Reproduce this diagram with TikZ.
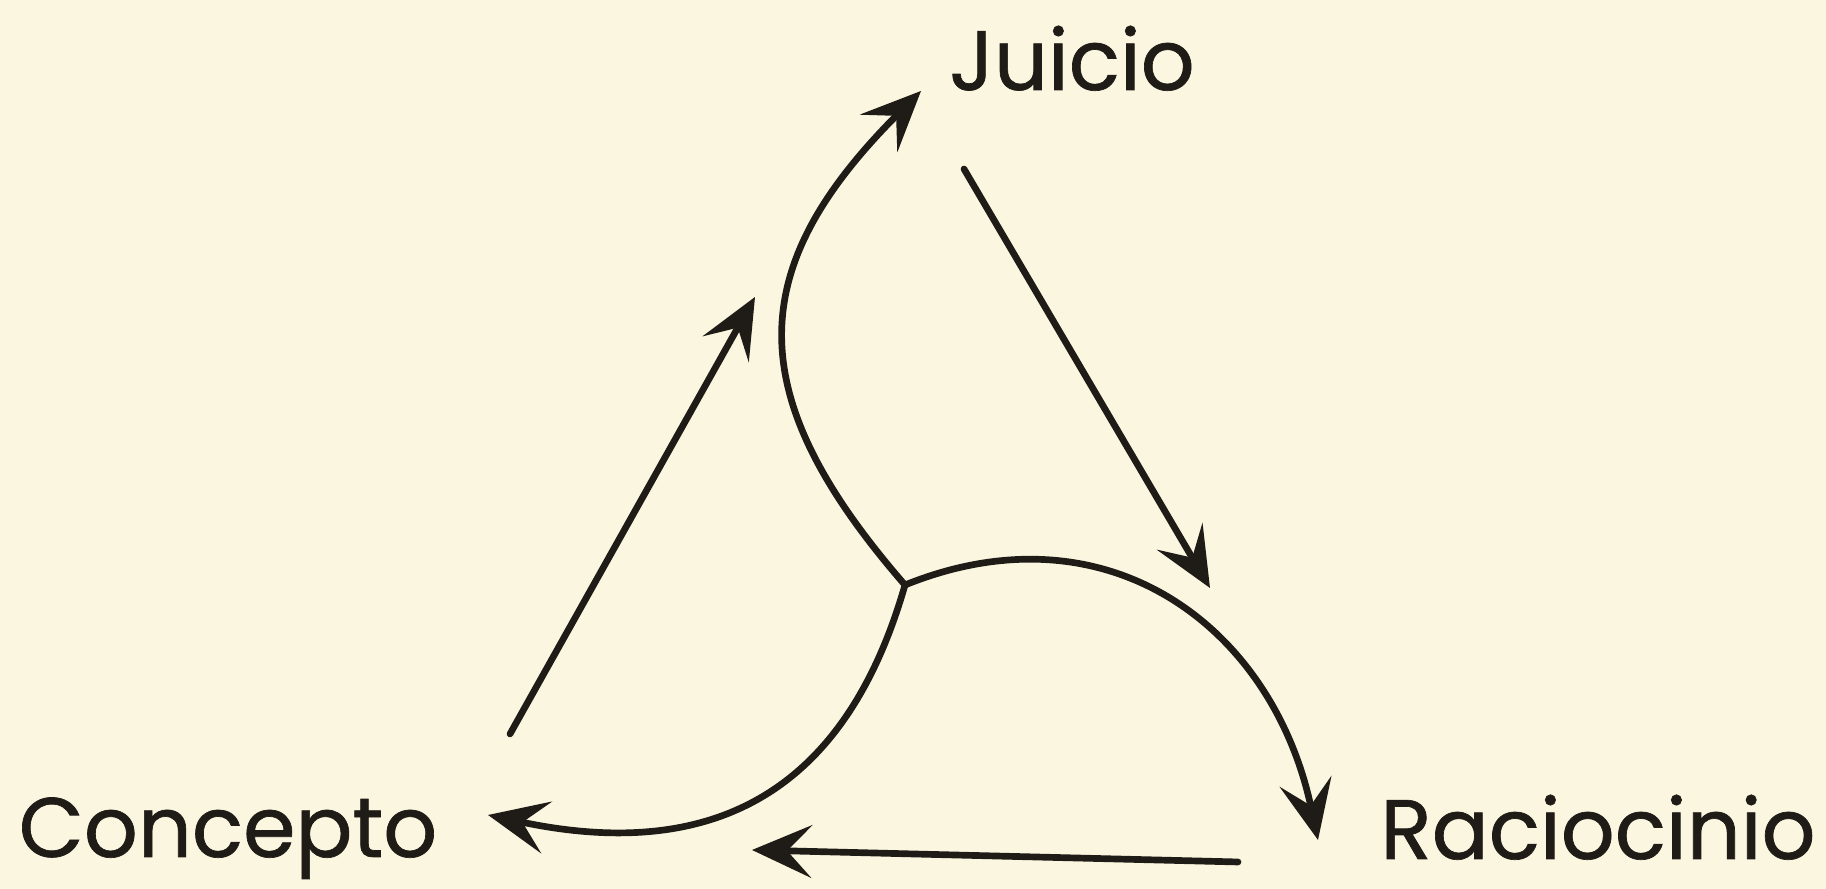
\documentclass[tikz,border=0pt]{standalone}
\usepackage{fontspec}
\setmainfont{Poppins}[FakeBold=0.8]
\usetikzlibrary{arrows.meta}
\definecolor{trioink}{HTML}{1F1B16}
\definecolor{triopaper}{HTML}{FBF6E0}
\newcommand{\TrioFont}{\fontsize{24}{28}\selectfont}
\tikzset{
  trio label/.style={
    font=\TrioFont,
    text=trioink,
    inner sep=0pt,
    anchor=base
  },
  trio arrow/.style={
    -{Stealth[length=17pt,width=15pt,inset=7pt]},
    line width=1.9pt,
    draw=trioink,
    line cap=round
  }
}

\begin{document}
\begin{tikzpicture}[x=0.01cm,y=0.01cm]
\fill[triopaper] (0,0) rectangle (1826,889);
\useasboundingbox (0,0) rectangle (1826,889);

\node[trio label] (juicio) at (1072,799) {Juicio};
\node[trio label] (concepto) at (228,32) {Concepto};
\node[trio label] (raciocinio) at (1598,30) {Raciocinio};

% centre of the three arcs and their tips
\coordinate (hub) at (905,304);
\coordinate (juicio tip) at (921,798);
\coordinate (raciocinio tip) at (1318,49);
\coordinate (concepto tip) at (488,74);

% ends of the straight arrows
\coordinate (cj from) at (510,155);
\coordinate (cj to) at (755,592);
\coordinate (jr from) at (964,720);
\coordinate (jr to) at (1210,301);
\coordinate (rc from) at (1238,27);
\coordinate (rc to) at (752,39);

\draw[trio arrow] (hub) to[out=131,in=225,looseness=1.3] (juicio tip);
\draw[trio arrow] (hub) to[out=22,in=102,looseness=1.15] (raciocinio tip);
\draw[trio arrow] (hub) to[out=254,in=348,looseness=1.2] (concepto tip);

\draw[trio arrow] (cj from) -- (cj to);
\draw[trio arrow] (jr from) -- (jr to);
\draw[trio arrow] (rc from) -- (rc to);
\end{tikzpicture}
\end{document}
